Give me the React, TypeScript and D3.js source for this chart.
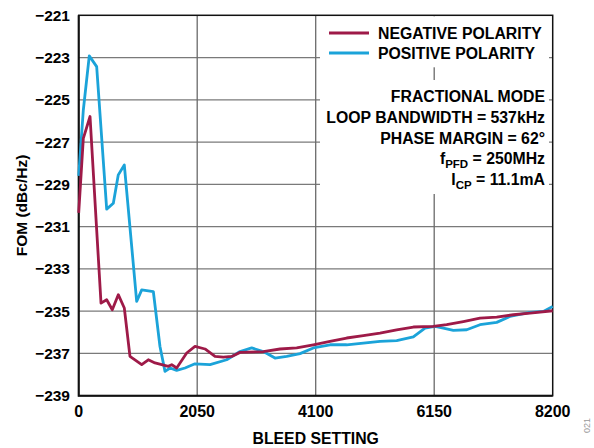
import React, { useEffect, useRef } from 'react'
import * as d3 from 'd3'

// bleed setting vs FOM
const xTicks = [0, 2050, 4100, 6150, 8200]
const yTicks = [-221, -223, -225, -227, -229, -231, -233, -235, -237, -239]

const bleedNeg = [
  0, 80, 196, 311, 386, 484, 581, 685, 789, 887, 1090, 1204, 1320, 1436, 1550, 1609, 1695, 1868, 2012, 2185,
  2358, 2502, 2647, 2791, 3194, 3483, 3771, 4059, 4347, 4636, 4924, 5212, 5501, 5789, 6135, 6366, 6654, 6942,
  7231, 7519, 7807, 8200,
]
const fomNeg = [
  -230.35, -226.82, -225.79, -231.15, -234.62, -234.46, -234.93, -234.22, -234.85, -237.14, -237.53, -237.3,
  -237.45, -237.53, -237.61, -237.53, -237.69, -236.98, -236.67, -236.79, -237.14, -237.17, -237.14, -236.95,
  -236.91, -236.79, -236.74, -236.59, -236.43, -236.27, -236.16, -236.04, -235.88, -235.75, -235.72, -235.64,
  -235.49, -235.33, -235.28, -235.17, -235.09, -234.98,
]

const bleedPos = [
  0, 80, 183, 311, 484, 599, 685, 789, 1003, 1090, 1291, 1406, 1493, 1580, 1695, 1839, 2012, 2272, 2560, 2791,
  2993, 3194, 3396, 3598, 3829, 4059, 4347, 4636, 4924, 5212, 5501, 5789, 5991, 6164, 6308, 6481, 6712, 6942,
  7231, 7461, 7807, 8038, 8200,
]
const fomPos = [
  -228.6, -225.48, -222.92, -223.43, -230.17, -229.89, -228.55, -228.08, -234.54, -233.99, -234.07, -236.67,
  -237.85, -237.69, -237.8, -237.69, -237.49, -237.53, -237.3, -236.91, -236.74, -236.91, -237.22, -237.14,
  -237.01, -236.74, -236.59, -236.59, -236.51, -236.43, -236.39, -236.22, -235.8, -235.72, -235.8, -235.91,
  -235.88, -235.64, -235.53, -235.25, -235.06, -235.01, -234.78,
]

const seriesNames = ['NEGATIVE POLARITY', 'POSITIVE POLARITY']
const seriesColors = ['#9e1a48', '#1ba3d9']

const W = 594
const H = 448
const FONT = '"Liberation Sans", Arial, sans-serif'
const FS = 15.8

export default function App() {
  const svgRef = useRef<SVGSVGElement>(null)

  useEffect(() => {
    document.body.style.margin = '0'
    const svg = d3.select(svgRef.current)
    svg.selectAll('*').remove()

    const left = 78.7
    const right = 552.7
    const top = 15.3
    const bottom = 395.7

    const x = d3.scaleLinear().domain([0, 8200]).range([left, right])
    const y = d3.scaleLinear().domain([-221, -239]).range([top, bottom])

    svg.append('rect').attr('width', W).attr('height', H).attr('fill', 'white')

    // grid
    svg
      .append('g')
      .selectAll('line')
      .data(yTicks.slice(1, -1))
      .enter()
      .append('line')
      .attr('x1', left)
      .attr('x2', right)
      .attr('y1', (d) => y(d))
      .attr('y2', (d) => y(d))
      .attr('stroke', '#7a7a7a')
      .attr('stroke-width', 1.2)

    svg
      .append('g')
      .selectAll('line')
      .data(xTicks.slice(1, -1))
      .enter()
      .append('line')
      .attr('x1', (d) => x(d))
      .attr('x2', (d) => x(d))
      .attr('y1', top)
      .attr('y2', bottom)
      .attr('stroke', '#6a6a6a')
      .attr('stroke-width', 1.3)

    // white panels behind legend and notes
    svg.append('rect').attr('x', 320).attr('y', top + 1).attr('width', 229).attr('height', 51).attr('fill', 'white')
    svg.append('rect').attr('x', 320).attr('y', 80).attr('width', 229).attr('height', 114).attr('fill', 'white')

    // frame
    svg
      .append('rect')
      .attr('x', left)
      .attr('y', top)
      .attr('width', right - left)
      .attr('height', bottom - top)
      .attr('fill', 'none')
      .attr('stroke', '#111')
      .attr('stroke-width', 1.5)
    svg
      .append('path')
      .attr('d', `M${left},${top}V${bottom}H${right}`)
      .attr('fill', 'none')
      .attr('stroke', '#111')
      .attr('stroke-width', 2)

    // curves
    const line = d3
      .line<[number, number]>()
      .x((d) => x(d[0]))
      .y((d) => y(d[1]))

    const negPts = bleedNeg.map((b, i) => [b, fomNeg[i]] as [number, number])
    const posPts = bleedPos.map((b, i) => [b, fomPos[i]] as [number, number])

    svg
      .append('path')
      .datum(posPts)
      .attr('d', line)
      .attr('fill', 'none')
      .attr('stroke', seriesColors[1])
      .attr('stroke-width', 2.8)
      .attr('stroke-linejoin', 'round')
    svg
      .append('path')
      .datum(negPts)
      .attr('d', line)
      .attr('fill', 'none')
      .attr('stroke', seriesColors[0])
      .attr('stroke-width', 2.8)
      .attr('stroke-linejoin', 'round')

    // tick labels
    svg
      .append('g')
      .selectAll('text')
      .data(yTicks)
      .enter()
      .append('text')
      .attr('x', 70)
      .attr('y', (d) => y(d) + 5.5)
      .attr('text-anchor', 'end')
      .attr('font-family', FONT)
      .attr('font-weight', 'bold')
      .attr('font-size', 15.5)
      .text((d) => '\u2212' + Math.abs(d))

    svg
      .append('g')
      .selectAll('text')
      .data(xTicks)
      .enter()
      .append('text')
      .attr('x', (d) => x(d))
      .attr('y', 416.5)
      .attr('text-anchor', 'middle')
      .attr('font-family', FONT)
      .attr('font-weight', 'bold')
      .attr('font-size', 16)
      .text((d) => String(d))

    // axis titles
    svg
      .append('text')
      .attr('x', (left + right) / 2)
      .attr('y', 444)
      .attr('text-anchor', 'middle')
      .attr('font-family', FONT)
      .attr('font-weight', 'bold')
      .attr('font-size', FS)
      .text('BLEED SETTING')

    svg
      .append('text')
      .attr('transform', `translate(27, ${(top + bottom) / 2}) rotate(-90)`)
      .attr('text-anchor', 'middle')
      .attr('font-family', FONT)
      .attr('font-weight', 'bold')
      .attr('font-size', 15.5)
      .text('FOM (dBc/Hz)')

    // legend
    seriesNames.forEach((name, i) => {
      const ly = 33 + i * 20
      svg
        .append('line')
        .attr('x1', 329)
        .attr('x2', 369)
        .attr('y1', ly)
        .attr('y2', ly)
        .attr('stroke', seriesColors[i])
        .attr('stroke-width', 3)
      svg
        .append('text')
        .attr('x', 378)
        .attr('y', ly + 5.5)
        .attr('font-family', FONT)
        .attr('font-weight', 'bold')
        .attr('font-size', FS)
        .text(name)
    })

    // notes
    const notes = svg
      .append('g')
      .attr('font-family', FONT)
      .attr('font-weight', 'bold')
      .attr('font-size', FS)
      .attr('text-anchor', 'end')
    const nx = 545
    notes.append('text').attr('x', nx).attr('y', 102).text('FRACTIONAL MODE')
    notes.append('text').attr('x', nx).attr('y', 123).text('LOOP BANDWIDTH = 537kHz')
    notes.append('text').attr('x', nx).attr('y', 144).text('PHASE MARGIN = 62°')
    const f = notes.append('text').attr('x', nx).attr('y', 164)
    f.append('tspan').text('f')
    f.append('tspan').attr('font-size', 11.5).attr('dy', 4).text('PFD')
    f.append('tspan').attr('dy', -4).text(' = 250MHz')
    const ic = notes.append('text').attr('x', nx).attr('y', 185)
    ic.append('tspan').text('I')
    ic.append('tspan').attr('font-size', 11.5).attr('dy', 4).text('CP')
    ic.append('tspan').attr('dy', -4).text(' = 11.1mA')

    svg
      .append('text')
      .attr('transform', 'translate(590, 418) rotate(-90)')
      .attr('text-anchor', 'end')
      .attr('font-family', FONT)
      .attr('font-size', 9)
      .attr('fill', '#999')
      .text('021')
  }, [])

  return <svg ref={svgRef} width={W} height={H} style={{ display: 'block' }} />
}
